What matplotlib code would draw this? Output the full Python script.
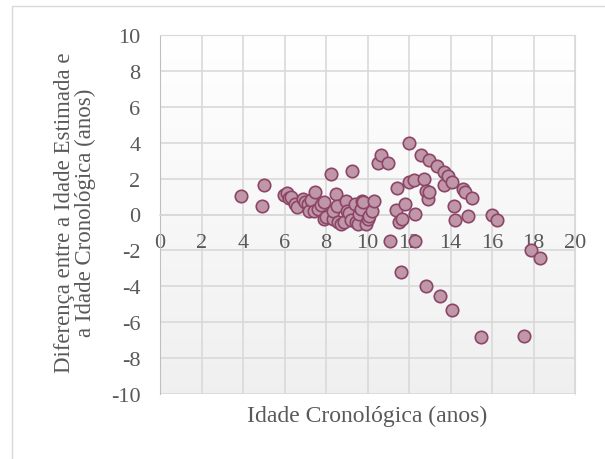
import numpy as np
import matplotlib.pyplot as plt
from matplotlib.patches import Rectangle

# idade cronológica (anos)
idade = [3.9, 5.0, 4.92, 5.96, 6.1, 6.23, 6.3, 6.52, 6.6, 6.87,
         7.0, 7.11, 7.2, 7.3, 7.44, 7.48, 7.6, 7.76, 7.9, 7.92,
         8.0, 8.24, 8.32, 8.35, 8.48, 8.51, 8.6, 8.72, 8.88, 8.96,
         9.03, 9.09, 9.2, 9.23, 9.41, 9.44, 9.52, 9.6, 9.69, 9.73,
         9.77, 9.93, 10.0, 10.09, 10.2, 10.33, 10.49, 10.65, 11.0, 11.08,
         11.37, 11.4, 11.53, 11.61, 11.66, 11.82, 11.98, 12.01, 12.26, 12.3,
         12.3, 12.6, 12.74, 12.82, 12.82, 12.9, 12.94, 12.98, 13.33, 13.49,
         13.7, 13.7, 13.86, 14.07, 14.07, 14.18, 14.23, 14.58, 14.71, 14.82,
         15.04, 15.47, 16.0, 16.22, 17.56, 17.88, 18.3]

# diferença entre idade estimada e cronológica (anos)
diferenca = [1.05, 1.66, 0.46, 1.09, 1.2, 0.9, 1.0, 0.58, 0.4, 0.86,
             0.7, 0.58, 0.21, 0.8, 0.21, 1.27, 0.3, 0.53, 0.7, -0.25,
             -0.16, 2.26, -0.25, 0.2, 1.14, 0.49, -0.4, -0.53, -0.43, 0.77,
             0.2, 0.07, -0.3, 2.44, 0.58, -0.43, -0.53, 0.03, 0.3, 0.73,
             0.68, -0.53, -0.25, -0.07, 0.2, 0.73, 2.87, 3.31, 2.85, -1.46,
             0.25, 1.46, -0.43, -3.22, -0.25, 0.58, 3.98, 1.79, 1.94, 0.03,
             -1.46, 3.31, 1.98, 1.33, -3.97, 0.86, 3.05, 1.24, 2.68, -4.56,
             2.35, 1.64, 2.13, 1.83, -5.3, 0.49, -0.29, 1.42, 1.27, -0.07,
             0.9, -6.84, -0.03, -0.29, -6.75, -1.96, -2.42]

plt.rcParams['font.family'] = ['Liberation Serif', 'DejaVu Serif']
plt.rcParams['axes.unicode_minus'] = False

fig = plt.figure(figsize=(6.05, 4.6), dpi=100)

# borda da área do gráfico
fig.patches.append(Rectangle((12/605, -0.1), 1.1, 1.1 - 7/460,
                             transform=fig.transFigure, fill=False,
                             edgecolor='#d9d9d9', linewidth=1.0))

ax = fig.add_axes([160/605, 65/460, 415/605, 359/460])

# fundo com gradiente leve (branco em cima, cinza claro em baixo)
t = np.linspace(0, 1, 256).reshape(-1, 1, 1)
topo = np.array([1.0, 1.0, 1.0])
base = np.array([0.94, 0.94, 0.94])
grad = topo * (1 - t) + base * t
ax.imshow(grad, extent=[0, 20, -10, 10], aspect='auto', origin='upper',
          zorder=0)

ax.set_xlim(0, 20)
ax.set_ylim(-10, 10)
ax.set_xticks(range(0, 21, 2))
ax.set_yticks(range(-10, 11, 2))
ax.grid(True, color='#d9d9d9', linewidth=1.2, zorder=1)
ax.set_axisbelow(True)

ax.scatter(idade, diferenca, s=80, facecolor='#bf97a9', edgecolor='#8c4566',
           linewidth=1.2, zorder=3)

for side in ['top', 'right']:
    ax.spines[side].set_color('#d9d9d9')
ax.spines['left'].set_color('#bfbfbf')
ax.spines['bottom'].set_position(('data', 0))
ax.spines['bottom'].set_color('#d9d9d9')
ax.spines['bottom'].set_linewidth(1.2)

ax.tick_params(axis='x', length=0, pad=13, labelsize=16, colors='#595959')
ax.tick_params(axis='y', length=0, pad=14, labelsize=16, colors='#595959')

ax.set_xlabel('Idade Cronológica (anos)', fontsize=17, color='#595959',
              labelpad=0)
ax.xaxis.set_label_coords(0.5, -0.03)

fig.text(75/605, 1 - 213/460,
         'Diferença entre a Idade Estimada e\na Idade Cronológica (anos)',
         rotation=90, ha='center', va='center', multialignment='center',
         fontsize=16.5, color='#595959', linespacing=1.05)

fig.savefig('out.png', dpi=100)
